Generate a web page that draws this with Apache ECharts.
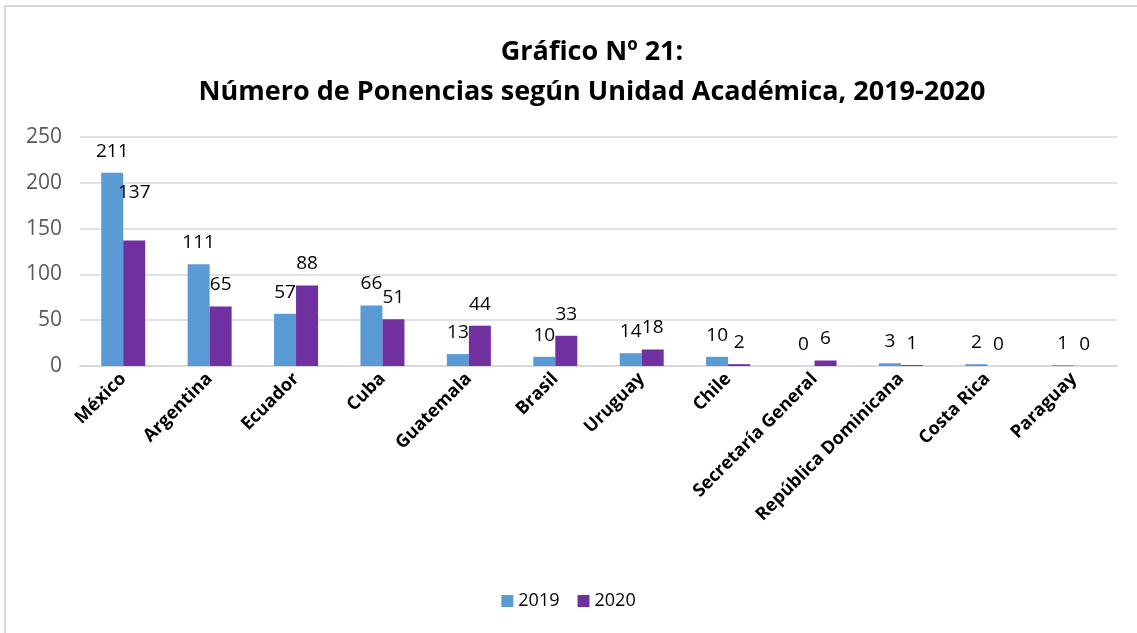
<!DOCTYPE html>
<html>
<head>
<meta charset="utf-8">
<script src="https://cdn.jsdelivr.net/npm/echarts@6/dist/echarts.min.js"></script>
<style>
  html, body { margin: 0; padding: 0; background: #fff; }
  #chart { width: 1137px; height: 633px; }
</style>
</head>
<body>
<div id="chart"></div>
<script>
var categories = ['México', 'Argentina', 'Ecuador', 'Cuba', 'Guatemala', 'Brasil', 'Uruguay',
    'Chile', 'Secretaría General', 'República Dominicana', 'Costa Rica', 'Paraguay'];
var values2019 = [211, 111, 57, 66, 13, 10, 14, 10, 0, 3, 2, 1];
var values2020 = [137, 65, 88, 51, 44, 33, 18, 2, 6, 1, 0, 0];
var yTicks = [0, 50, 100, 150, 200, 250];

var font = '"Open Sans", "Liberation Sans", sans-serif';

var myChart = echarts.init(document.getElementById('chart'), null, {renderer: 'canvas'});

var labelStyle = {
    show: true,
    position: 'top',
    distance: 12,
    color: '#000',
    fontSize: 19,
    fontFamily: font
};

var option = {
    backgroundColor: '#fff',
    animation: false,
    title: {
        text: 'Gráfico Nº 21:\nNúmero de Ponencias según Unidad Académica, 2019-2020',
        left: 587,
        textAlign: 'center',
        top: 27,
        textStyle: {
            fontFamily: font,
            fontSize: 27,
            fontWeight: 'bold',
            color: '#000',
            lineHeight: 40
        }
    },
    legend: {
        data: ['2019', '2020'],
        bottom: 18,
        left: 'center',
        itemWidth: 12,
        itemHeight: 12,
        itemGap: 18,
        icon: 'rect',
        textStyle: { fontFamily: font, fontSize: 18, color: '#000' }
    },
    grid: { left: 80, right: 20, top: 137, bottom: 267, containLabel: false },
    xAxis: {
        type: 'category',
        data: categories,
        axisLine: { lineStyle: { color: '#d9d9d9', width: 2 } },
        axisTick: { show: false },
        axisLabel: {
            interval: 0,
            rotate: 45,
            margin: 10,
            fontFamily: font,
            fontSize: 18,
            fontWeight: 'bold',
            color: '#000'
        }
    },
    yAxis: {
        type: 'value',
        min: yTicks[0],
        max: yTicks[yTicks.length - 1],
        interval: 50,
        axisLine: { show: false },
        axisTick: { show: false },
        splitLine: { lineStyle: { color: '#d9d9d9', width: 1.5 } },
        axisLabel: { fontFamily: font, fontSize: 21, color: '#595959', margin: 18 }
    },
    series: [
        {
            name: '2019',
            type: 'bar',
            barWidth: 22,
            barGap: '0%',
            itemStyle: { color: '#5b9bd5' },
            label: labelStyle,
            data: values2019
        },
        {
            name: '2020',
            type: 'bar',
            barWidth: 22,
            itemStyle: { color: '#7030a0' },
            label: labelStyle,
            data: values2020.map(function (v, i) {
                // the 137 label sits higher in the original
                if (i === 0) return { value: v, label: { distance: 38 } };
                return v;
            })
        }
    ],
    graphic: [
        {
            type: 'polyline',
            shape: { points: [[5, 633], [5, 6], [1137, 6]] },
            style: { stroke: '#d9d9d9', lineWidth: 2, fill: null }
        }
    ]
};

myChart.setOption(option);
</script>
</body>
</html>
